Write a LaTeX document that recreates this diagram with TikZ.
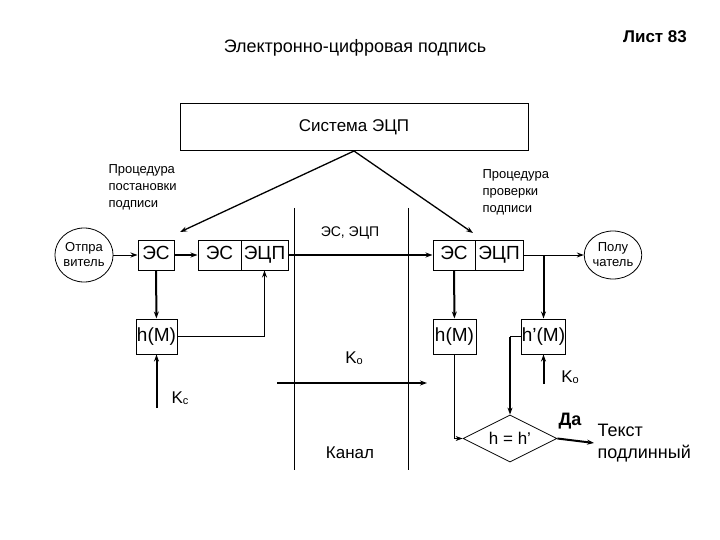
\documentclass[tikz,border=0pt]{standalone}
\usepackage{fontspec}
\setmainfont{Liberation Sans}
\usetikzlibrary{shapes.geometric,arrows.meta}

\begin{document}
\begin{tikzpicture}[x=1pt, y=-1pt, >={Stealth[length=7pt,width=5pt]},
  box/.style={draw, line width=1pt, inner sep=0pt, text height=13.5pt, text depth=4pt,
    font=\fontsize{19}{19}\selectfont},
  oval/.style={draw, ellipse, line width=0.8pt, inner sep=0pt, align=center, font=\fontsize{13}{15}\selectfont},
  thinline/.style={line width=1pt},
  thickline/.style={line width=2pt},
  small/.style={font=\fontsize{13}{17}\selectfont, align=left}]
  \useasboundingbox (0,0) rectangle (720,540);

  % Headings
  \node (title) at (355,48) {\fontsize{18}{18}\selectfont Электронно-цифровая подпись};
  \node (sheet) at (655,37) {\fontsize{17}{17}\selectfont\bfseries Лист 83};

  % System box
  \node[draw, line width=1pt, minimum width=348, minimum height=47, font=\fontsize{17}{17}\selectfont] (system) at (354,127) {Система ЭЦП};

  % Channel
  \coordinate (chLtop) at (294,208);
  \coordinate (chLbot) at (294,470);
  \coordinate (chRtop) at (408,208);
  \coordinate (chRbot) at (408,470);
  \draw[line width=1pt] (chLtop) -- (chLbot);
  \draw[line width=1pt] (chRtop) -- (chRbot);
  \node (chlabel) at (350,233) {\fontsize{14}{14}\selectfont ЭС, ЭЦП};
  \node (canal) at (350,453) {\fontsize{17}{17}\selectfont Канал};

  % Signing side
  \node[oval, minimum width=58, minimum height=54] (sender) at (84,255) {Отпра\\витель};
  \node[box, minimum width=36, minimum height=30] (es) at (156,255) {ЭС};
  \node[box, minimum width=43, minimum height=30] (esA) at (219.5,255) {ЭС};
  \node[box, minimum width=47, minimum height=30] (ecpA) at (264.5,255) {ЭЦП};
  \node[box, minimum width=41, minimum height=35] (hA) at (156.5,336.5) {h(M)};
  \node[small, anchor=north west] (procA) at (105,161) {Процедура\\постановки\\подписи};

  % Checking side
  \node[box, minimum width=42, minimum height=30] (esB) at (454,255) {ЭС};
  \node[box, minimum width=48, minimum height=30] (ecpB) at (499,255) {ЭЦП};
  \node[oval, minimum width=52, minimum height=48] (receiver) at (613,255) {Полу\\чатель};
  \node[box, minimum width=43, minimum height=35] (hB) at (454.5,336.5) {h(M)};
  \node[box, minimum width=41, minimum height=35] (hpB) at (543.5,336.5) {h'(M)};
  \node[draw, diamond, aspect=2, line width=0.8pt, inner sep=0pt, minimum width=94, minimum height=47,
    font=\fontsize{17}{17}\selectfont] (cmp) at (510,438.5) {h = h'};
  \node[small, anchor=north west] (procB) at (479,166) {Процедура\\проверки\\подписи};
  \node[anchor=west, align=left, font=\fontsize{18}{22}\selectfont] (result) at (594,443) {Текст\\подлинный};
  \node (yes) at (570,421) {\fontsize{18}{18}\selectfont\bfseries Да};

  % Keys
  \coordinate (kcStart) at (156.5,408);
  \coordinate (koStart) at (543.5,384);
  \coordinate (koA) at (277,383);
  \coordinate (koB) at (427,383);
  \node (kc) at (180,398) {\fontsize{17}{17}\selectfont K\raisebox{-0.1ex}{\fontsize{11}{11}\selectfont c}};
  \node (koMid) at (354,358) {\fontsize{17}{17}\selectfont K\raisebox{-0.1ex}{\fontsize{11}{11}\selectfont o}};
  \node (koRight) at (570,377) {\fontsize{17}{17}\selectfont K\raisebox{-0.1ex}{\fontsize{11}{11}\selectfont o}};

  % Procedures
  \coordinate (toEs) at (180,232);
  \coordinate (toEsB) at (473,233);
  \draw[->, line width=1.3pt] (system.south) -- (toEs);
  \draw[->, line width=1.3pt] (system.south) -- (toEsB);

  % Signing flow
  \draw[->, thinline] (sender) -- (es);
  \draw[->, thickline] (es) -- (esA);
  \draw[->, thickline] (es) -- (hA);
  \draw[->, thinline] (hA.east) -| (ecpA.south);
  \draw[->, thickline] (kcStart) -- (hA.south);

  % Transfer
  \draw[->, thickline] (ecpA.east) -- (esB.west);
  \draw[->, thickline] (koA) -- (koB);

  % Checking flow
  \draw[->, thinline] (ecpB.east) -- (receiver.west);
  \draw[->, thickline] (hpB.north |- ecpB.east) -- (hpB.north);
  \draw[->, thickline] (esB) -- (hB);
  \draw[->, thickline] (koStart) -- (hpB.south);
  \draw[->, thinline] (hB.south) |- (cmp.west);
  \draw[thinline] (hpB.west) -- (hpB.west -| cmp.north);
  \draw[->, thickline] (hpB.west -| cmp.north) -- (cmp.north);
  \draw[->, thickline] (cmp.east) -- (result.west);
\end{tikzpicture}
\end{document}
